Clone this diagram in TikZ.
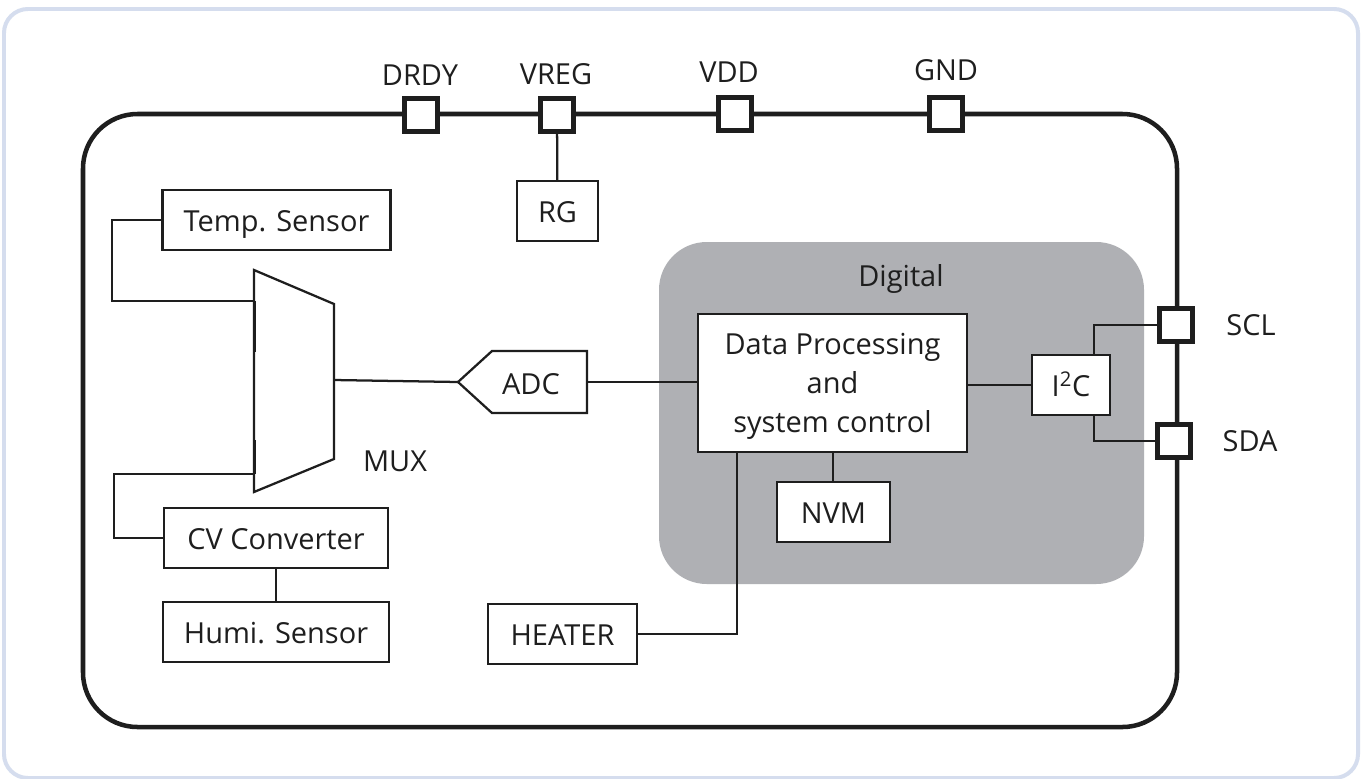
\documentclass[tikz,border=0pt]{standalone}
\usepackage{fontspec}
\setmainfont{Open Sans}
\definecolor{frameblue}{HTML}{D5DDEE}
\definecolor{diggray}{HTML}{AFB0B4}
\definecolor{ink}{HTML}{1E1E1E}
\newcommand{\px}{0.0264583cm}
\newcommand{\lblfont}{\fontsize{21.8}{26}\selectfont}
\tikzset{
 x=\px,y=-\px,
 blockbox/.style={draw=ink,line width=1.7pt,fill=white,inner sep=0pt,font=\lblfont,text=ink,align=center},
 pin/.style={draw=ink,line width=3.6pt,fill=white,minimum size=24.5pt,inner sep=0pt},
 pinlabel/.style={font=\lblfont,text=ink,inner sep=0pt},
 wire/.style={draw=ink,line width=1.7pt},
}
\newcommand{\bx}[5]{\node[blockbox,text height=17pt,text depth=0pt,minimum width=#3*0.75pt,minimum height=#4*0.75pt,anchor=center] (#1) at (#2) {#5};}
\begin{document}
\begin{tikzpicture}
\useasboundingbox (0,0) rectangle (1362,778);
\fill[white] (0,0) rectangle (1362,778);
\draw[frameblue,line width=3pt,rounded corners=18pt] (4,9) rectangle (1358,778);
% chip outline
\draw[ink,line width=3.4pt,rounded corners=41pt] (83,114) rectangle (1177,727);
% digital
\fill[diggray,rounded corners=36pt] (659,242) rectangle (1144,584);
\node[pinlabel] (digitallabel) at (901,279) {Digital};
% pins
\node[pin] (drdy) at (421,115) {};
\node[pin] (vreg) at (557,115) {};
\node[pin] (vdd) at (735,114) {};
\node[pin] (gnd) at (946,114) {};
\node[pin] (scl) at (1176,325) {};
\node[pin] (sda) at (1174,441) {};
\node[pinlabel] at (420,75) {DRDY};
\node[pinlabel] at (556,74) {VREG};
\node[pinlabel] at (729,72) {VDD};
\node[pinlabel] at (946,70) {GND};
\node[pinlabel] at (1251,325) {SCL};
\node[pinlabel] at (1250,441) {SDA};
% blocks
\bx{rg}{557.5,211}{81}{60}{RG}
\bx{temp}{276.5,220}{229}{60}{Temp. Sensor}
\bx{cv}{276,538}{225}{60}{CV Converter}
\bx{humi}{276,632}{227}{60}{Humi. Sensor}
\bx{heater}{562.5,634}{150}{60}{HEATER}
\node[blockbox,minimum width=270*0.75pt,minimum height=138*0.75pt] (dp) at (832.5,383) {\rule{0pt}{21pt}Data Processing\\[3pt]and\\[3pt]system control};
\bx{nvm}{833.5,512}{113}{60}{NVM}
\bx{i2c}{1071,385}{78}{60}{I\textsuperscript{2}C}
% MUX
\coordinate (muxout) at (334,380);
\draw[wire,fill=white] (254,270) -- (334,304) -- (334,459) -- (254,492) -- cycle;
\draw[wire] (255,301) -- (255,352);
\draw[wire] (255,440) -- (255,474);
\node[pinlabel] (muxlabel) at (395,461) {MUX};
% ADC
\draw[wire,fill=white] (587,351) -- (492,351) -- (458,382) -- (492,413) -- (587,413) -- cycle;
\coordinate (adctip) at (458,382);
\coordinate (adcright) at (587,382);
\node[pinlabel] (adc) at (531,384) {ADC};
% wires
\draw[wire] (vreg) -- (rg);
\draw[wire] (temp.west) -- (112,220) -- (112,301) -- (254,301);
\draw[wire] (cv.west) -- (114,538) -- (114,474) -- (254,474);
\draw[wire] (cv) -- (humi);
\draw[wire] (muxout) -- (adctip);
\draw[wire] (adcright) -- (dp.west |- adcright);
\draw[wire] (dp.east |- i2c) -- (i2c);
\draw[wire] (833,452) -- (nvm.north -| 833,0);
\draw[wire] (heater.east) -- (737,634) -- (737,452);
\draw[wire] (scl.west) -- (1094,325) -- (1094,356);
\draw[wire] (sda.west) -- (1094,441) -- (1094,414);
\end{tikzpicture}
\end{document}
